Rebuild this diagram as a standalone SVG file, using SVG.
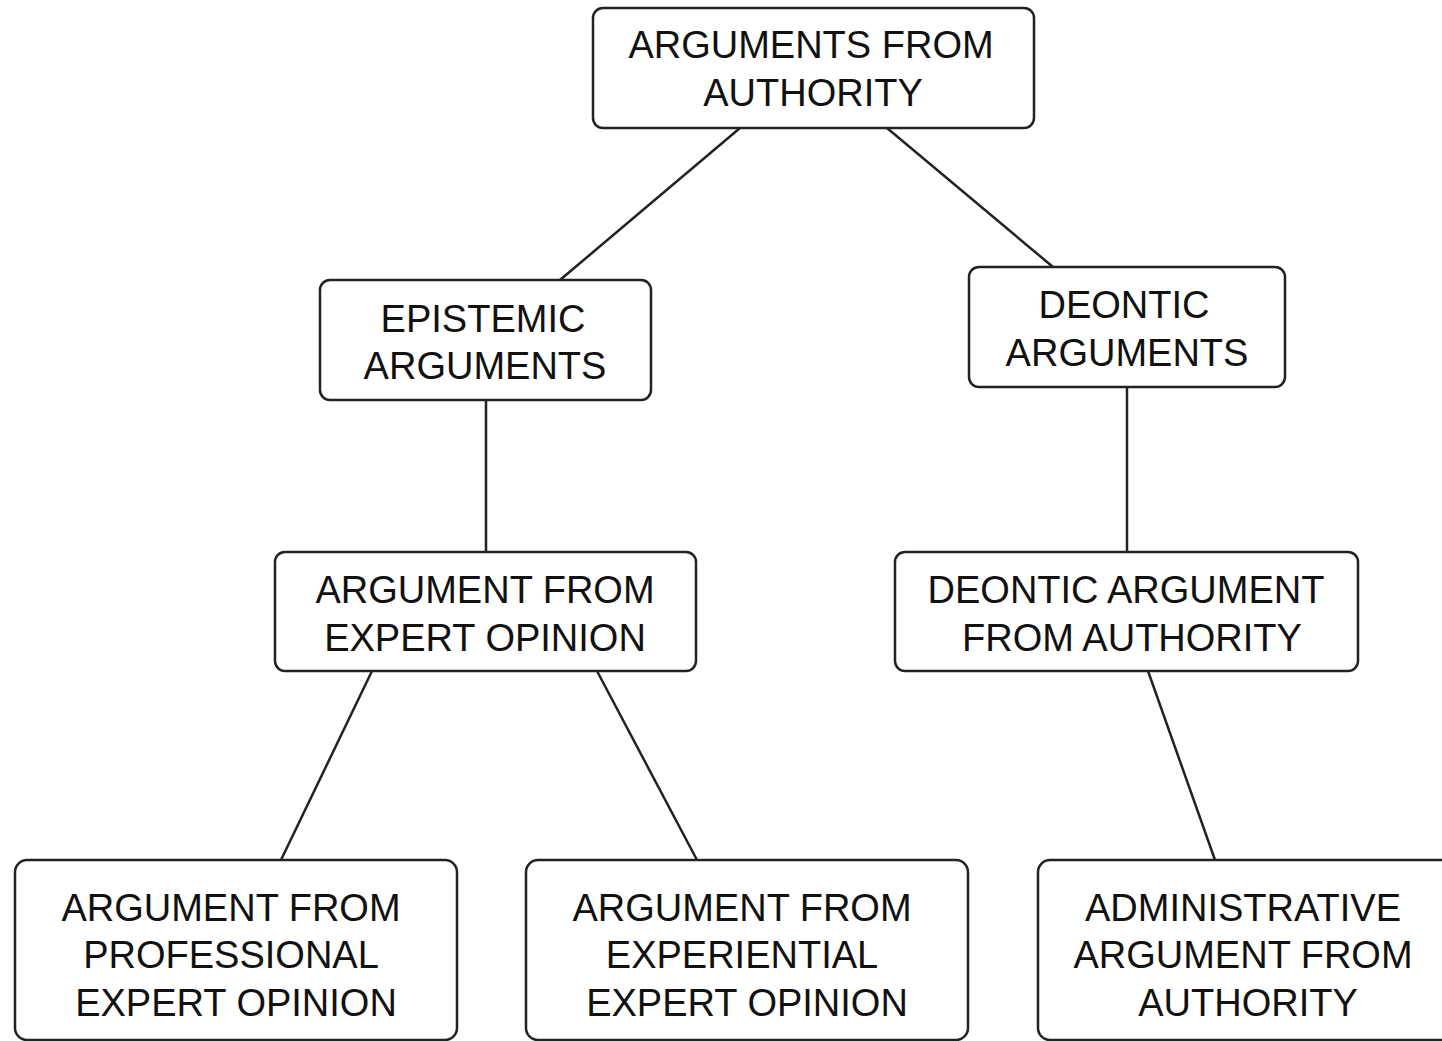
<svg xmlns="http://www.w3.org/2000/svg" width="1442" height="1041" viewBox="0 0 1442 1041">
<style>
.box{fill:#fff;stroke:#222;stroke-width:2.5}
.lbl{font-family:"Liberation Sans",Arial,sans-serif;font-size:38px;fill:#111;text-anchor:middle}
.edge{stroke:#222;stroke-width:2.5;fill:none}
</style>
<rect width="1442" height="1041" fill="#fff"/>
<g id="connectors">
<line class="edge" x1="740" y1="128" x2="560" y2="280"/>
<line class="edge" x1="887" y1="128" x2="1053" y2="267"/>
<line class="edge" x1="486" y1="400" x2="486" y2="552"/>
<line class="edge" x1="1127" y1="387" x2="1127" y2="552"/>
<line class="edge" x1="372" y1="671" x2="281" y2="860"/>
<line class="edge" x1="597" y1="671" x2="697" y2="860"/>
<line class="edge" x1="1148" y1="671" x2="1215" y2="860"/>
</g>
<g id="root">
<rect class="box" x="593" y="8" width="441" height="120" rx="10"/>
<text class="lbl" x="811" y="58">ARGUMENTS FROM</text>
<text class="lbl" x="813" y="106">AUTHORITY</text>
</g>
<g id="epistemic">
<rect class="box" x="320" y="280" width="331" height="120" rx="10"/>
<text class="lbl" x="483" y="332">EPISTEMIC</text>
<text class="lbl" x="485" y="379">ARGUMENTS</text>
</g>
<g id="deontic">
<rect class="box" x="969" y="267" width="316" height="120" rx="10"/>
<text class="lbl" x="1124" y="318">DEONTIC</text>
<text class="lbl" x="1127" y="366">ARGUMENTS</text>
</g>
<g id="expert">
<rect class="box" x="275" y="552" width="421" height="119" rx="10"/>
<text class="lbl" x="485" y="603">ARGUMENT FROM</text>
<text class="lbl" x="485" y="651">EXPERT OPINION</text>
</g>
<g id="deontic-authority">
<rect class="box" x="895" y="552" width="463" height="119" rx="10"/>
<text class="lbl" x="1126" y="603">DEONTIC ARGUMENT</text>
<text class="lbl" x="1132" y="651">FROM AUTHORITY</text>
</g>
<g id="professional">
<rect class="box" x="15" y="860" width="442" height="180" rx="12"/>
<text class="lbl" x="231" y="921">ARGUMENT FROM</text>
<text class="lbl" x="231" y="968">PROFESSIONAL</text>
<text class="lbl" x="236" y="1016">EXPERT OPINION</text>
</g>
<g id="experiential">
<rect class="box" x="526" y="860" width="442" height="180" rx="12"/>
<text class="lbl" x="742" y="921">ARGUMENT FROM</text>
<text class="lbl" x="742" y="968">EXPERIENTIAL</text>
<text class="lbl" x="747" y="1016">EXPERT OPINION</text>
</g>
<g id="administrative">
<rect class="box" x="1038" y="860" width="420" height="180" rx="12"/>
<text class="lbl" x="1243" y="921">ADMINISTRATIVE</text>
<text class="lbl" x="1243" y="968">ARGUMENT FROM</text>
<text class="lbl" x="1248" y="1016">AUTHORITY</text>
</g>
</svg>
